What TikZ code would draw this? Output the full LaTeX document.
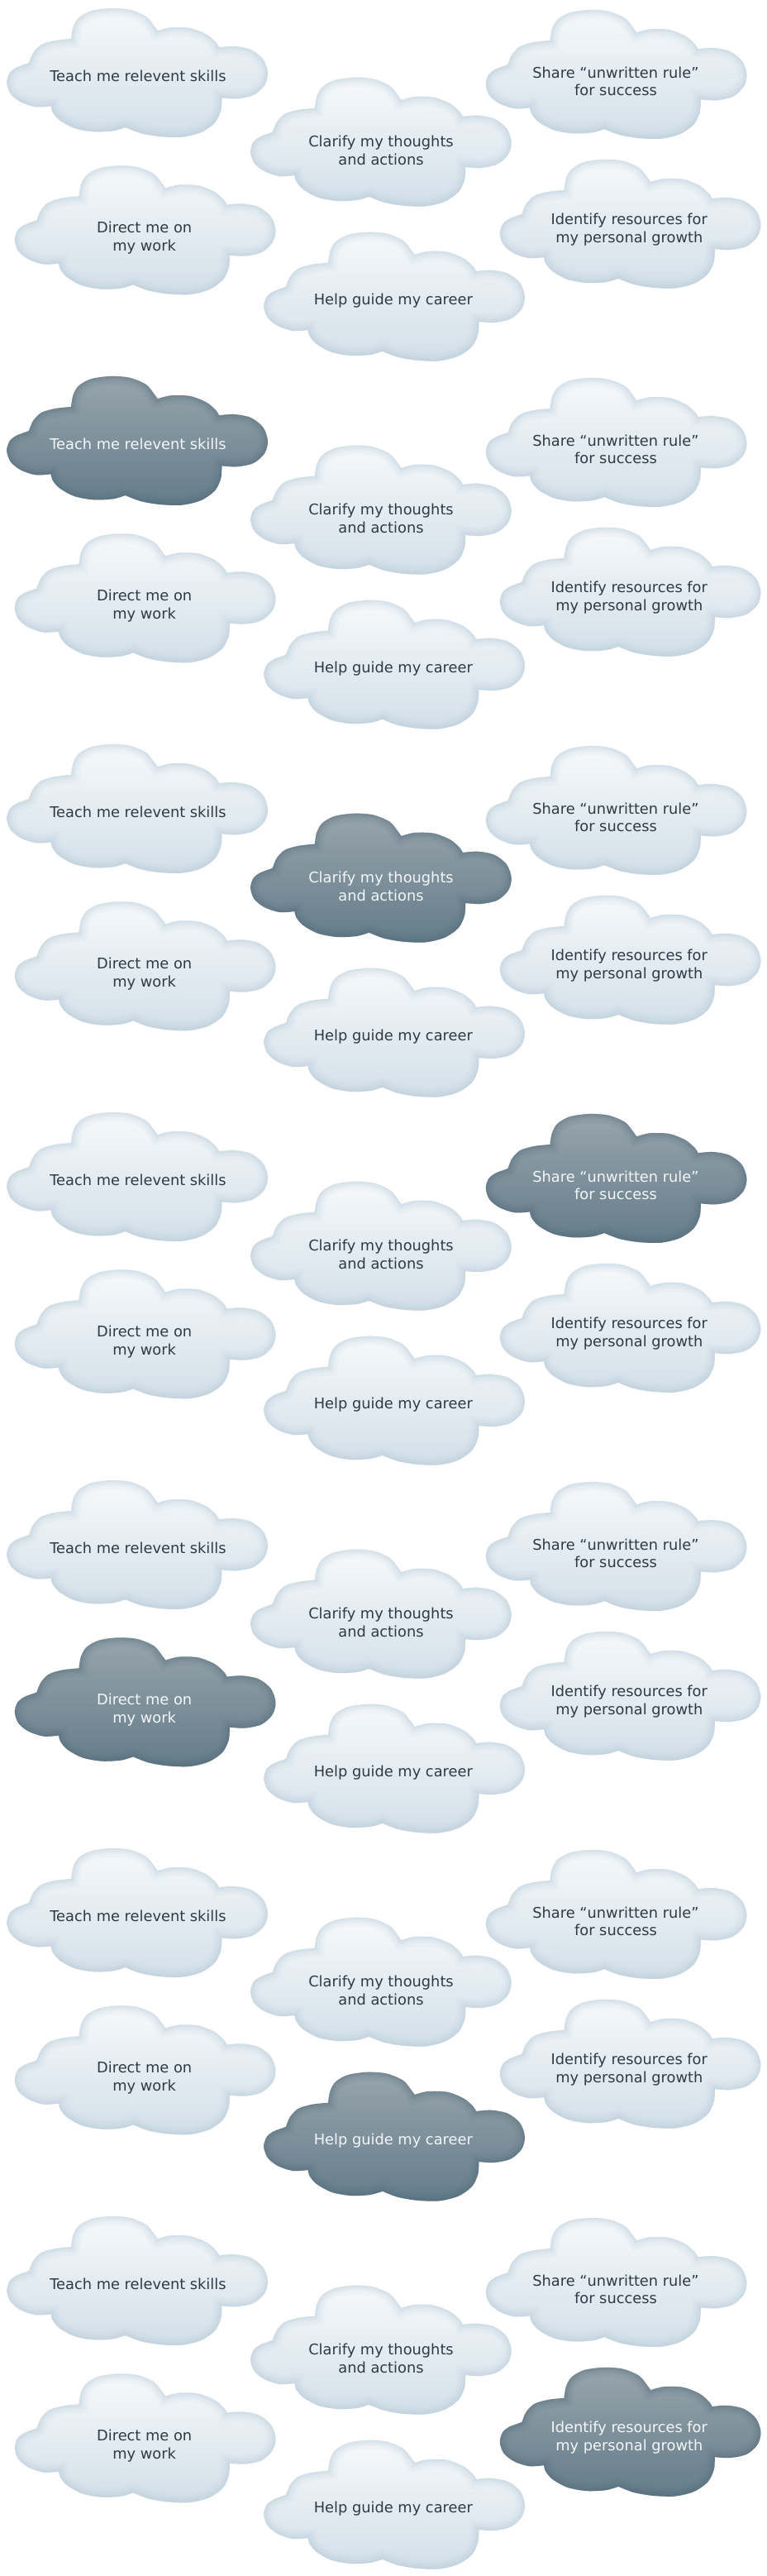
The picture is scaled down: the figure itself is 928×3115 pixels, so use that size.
\documentclass[tikz,border=0pt]{standalone}
\usepackage{fontspec}
\setmainfont{DejaVu Sans}
\definecolor{cloudTop}{HTML}{F6F9FB}
\definecolor{cloudMid}{HTML}{E4ECF2}
\definecolor{cloudBot}{HTML}{D2DFE8}
\definecolor{cloudEdge}{HTML}{B4C9D8}
\definecolor{darkTop}{HTML}{98A5AC}
\definecolor{darkMid}{HTML}{7D909B}
\definecolor{darkBot}{HTML}{647C8A}
\definecolor{darkEdge}{HTML}{546D7C}
\definecolor{lblDark}{HTML}{2E3B45}
\definecolor{lblLight}{HTML}{F4F6F7}

% one cloud outline, centred on (0,0), 1 unit = 1 px of the layout
\def\cloudoutline{
  plot[smooth] coordinates {(-131,12) (-126,24) (-116,34) (-99,39) (-80,41)}
  -- plot[smooth] coordinates {(-80,41) (-77.7,54.7) (-71,66.3) (-56,74.7) (-32.7,78) (-9.3,76.3) (10.7,68) (20.7,56.3) (24.7,50.7)}
  -- plot[smooth] coordinates {(24.7,50.7) (40.7,54.7) (64,54) (84,46.3) (95.7,36.3) (99,30.7)}
  -- plot[smooth] coordinates {(99,30.7) (117.3,32) (137.3,28) (152.3,16.3) (158,-0.3) (154,-15.3) (140.7,-27) (120.7,-31.3) (102.3,-30.3)}
  -- plot[smooth] coordinates {(102.3,-30.3) (101.3,-45.3) (94,-60.3) (77.3,-72) (54,-77.7) (27.3,-77) (4,-73) (-14.3,-66)}
  -- plot[smooth] coordinates {(-14.3,-66) (-29.3,-70.3) (-52.7,-71.3) (-76,-67) (-94.3,-57) (-102.7,-47) (-104.3,-40.3)}
  -- plot[smooth] coordinates {(-104.3,-40.3) (-122.7,-41.3) (-141,-35.3) (-153.3,-25.3) (-157.7,-12) (-154.3,-0.3) (-146,6.3) (-134.3,10.7) (-131,12)}
  -- cycle}

\begin{document}
\begin{tikzpicture}[x=1pt, y=1pt,
    cloudlight/.style={top color=cloudTop, middle color=cloudMid, bottom color=cloudBot},
    clouddark/.style={top color=darkTop, middle color=darkMid, bottom color=darkBot},
    lbl/.style={align=center, inner sep=0pt,
                font=\fontsize{17.8}{21.5}\selectfont, text=lblDark},
    lblhi/.style={lbl, text=lblLight}
  ]
  \fill[white] (0,0) rectangle (928,-3115);
  \useasboundingbox (0,0) rectangle (928,-3115);

  % seven panels, panel p darkens cloud p
  \foreach \p in {0,...,6} {
    \begin{scope}[yshift=-445*\p]
      \foreach \name/\i/\cx/\cy/\tx/\ty/\txt in {
          teach/1/166/88/167/91.8/{Teach me relevent skills},
          clarify/2/460.8/171.7/461/182/{Clarify my thoughts\\and actions},
          share/3/745.5/90/745/98.2/{Share “unwritten rule”\\for success},
          direct/4/175.5/278.3/174.7/287.5/{Direct me on\\my work},
          help/5/477/358.7/475.8/363.4/{Help guide my career},
          ident/6/762.5/270.8/761.3/277.5/{Identify resources for\\my personal growth}} {
        \ifnum\i=\p
          \tikzset{curcloud/.style={clouddark}, curedge/.style={darkEdge}, curlbl/.style={lblhi}}
        \else
          \tikzset{curcloud/.style={cloudlight}, curedge/.style={cloudEdge}, curlbl/.style={lbl}}
        \fi
        \path[curcloud, shift={(\cx,-\cy)}] \cloudoutline;
        \begin{scope}
          \clip[shift={(\cx,-\cy)}] \cloudoutline;
          \foreach \lw/\op in {22/0.07, 16/0.09, 11/0.11, 7/0.13, 3.5/0.15}
            \draw[shift={(\cx,-\cy)}, curedge, line width=\lw, opacity=\op] \cloudoutline;
        \end{scope}
        \node[curlbl] (\name\p) at (\tx,-\ty) {\txt};
      }
    \end{scope}
  }
\end{tikzpicture}
\end{document}
